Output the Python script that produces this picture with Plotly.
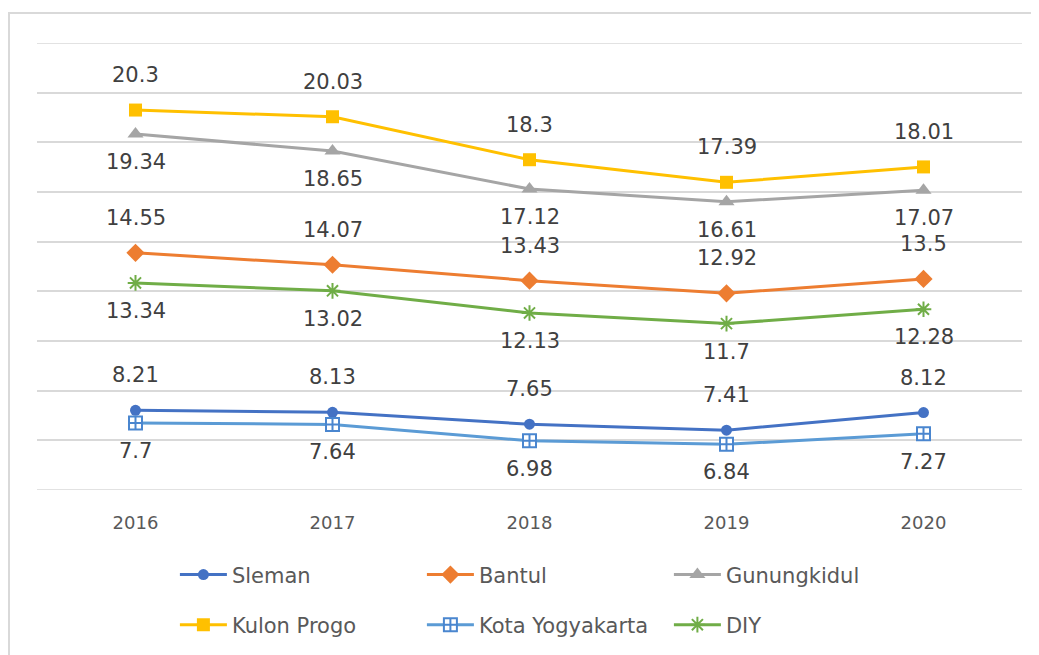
import plotly.graph_objects as go

years = ["2016", "2017", "2018", "2019", "2020"]
sleman = [8.21, 8.13, 7.65, 7.41, 8.12]
bantul = [14.55, 14.07, 13.43, 12.92, 13.5]
gunungkidul = [19.34, 18.65, 17.12, 16.61, 17.07]
kulon_progo = [20.3, 20.03, 18.3, 17.39, 18.01]
kota_yogyakarta = [7.7, 7.64, 6.98, 6.84, 7.27]
diy = [13.34, 13.02, 12.13, 11.7, 12.28]

FONT = "DejaVu Sans, Verdana, sans-serif"
Y_MIN, Y_MAX, Y_STEP = 5, 23, 2

# (name, values, line colour, marker, label side, legend)
series = [
    ("Sleman", sleman, "#4472C4", dict(symbol="circle", size=11, color="#4472C4"), "above", "legend"),
    ("Bantul", bantul, "#ED7D31", dict(symbol="diamond", size=14, color="#ED7D31"), "above", "legend"),
    ("Gunungkidul", gunungkidul, "#A5A5A5", dict(symbol="triangle-up", size=14, color="#A5A5A5"), "below", "legend"),
    ("Kulon Progo", kulon_progo, "#FFC000", dict(symbol="square", size=13, color="#FFC000"), "above", "legend2"),
    ("Kota Yogyakarta", kota_yogyakarta, "#5B9BD5",
     dict(symbol="square-cross", size=13, color="white", line=dict(color="#4A86CF", width=2)), "below", "legend2"),
    ("DIY", diy, "#70AD47", dict(symbol="asterisk", size=13, color="#70AD47",
                                 line=dict(color="#70AD47", width=2)), "below", "legend2"),
]

fig = go.Figure()
annotations = []
for name, vals, col, mk, pos, lg in series:
    fig.add_trace(go.Scatter(
        x=years, y=vals, name=name, mode="lines+markers",
        line=dict(color=col, width=3), marker=mk, legend=lg,
    ))
    for i, yv in enumerate(vals):
        annotations.append(dict(
            x=i, y=yv, xref="x", yref="y", text=f"{yv:g}", showarrow=False,
            yshift=35 if pos == "above" else -28,
            font=dict(family=FONT, size=21, color="#404040"),
        ))

# page has an 8px body margin, so the figure is drawn 8px smaller and offset
W, H = 1031, 647
L, R, T, B = 29, 17, 35, 165
pw, ph = W - L - R, H - T - B

grid_edges = [dict(type="line", xref="paper", yref="y", x0=0, x1=1, y0=v, y1=v,
                   line=dict(color="#D9D9D9", width=1.5), layer="below")
              for v in (Y_MIN, Y_MAX)]
border = dict(type="rect", xref="paper", yref="paper",
              x0=(1 - L) / pw, x1=1.1, y0=-0.5, y1=(H - B - 5) / ph,
              line=dict(color="#D9D9D9", width=2), fillcolor="rgba(0,0,0,0)", layer="below")

legend_common = dict(orientation="h", xanchor="left", yanchor="middle",
                     entrywidth=185, entrywidthmode="pixels", itemwidth=47,
                     font=dict(family=FONT, size=21, color="#595959"), bgcolor="rgba(0,0,0,0)")

fig.update_layout(
    width=W, height=H,
    margin=dict(l=L, r=R, t=T, b=B, autoexpand=False),
    paper_bgcolor="white", plot_bgcolor="white",
    font=dict(family=FONT, color="#595959"),
    annotations=annotations,
    showlegend=True,
    legend=dict(x=0.14, y=-0.19, **legend_common),
    legend2=dict(x=0.14, y=-0.302, **legend_common),
    shapes=grid_edges + [border],
)
fig.update_xaxes(type="category", range=[-0.5, 4.5], showgrid=False, showline=False, zeroline=False,
                 ticks="", ticklabelstandoff=20, tickfont=dict(family=FONT, size=18, color="#595959"))
fig.update_yaxes(range=[Y_MIN, Y_MAX], dtick=Y_STEP, tick0=Y_MIN, showgrid=True, gridcolor="#D9D9D9",
                 gridwidth=1.5, showticklabels=False, zeroline=False, showline=False, ticks="")

fig.write_html("out.html")
